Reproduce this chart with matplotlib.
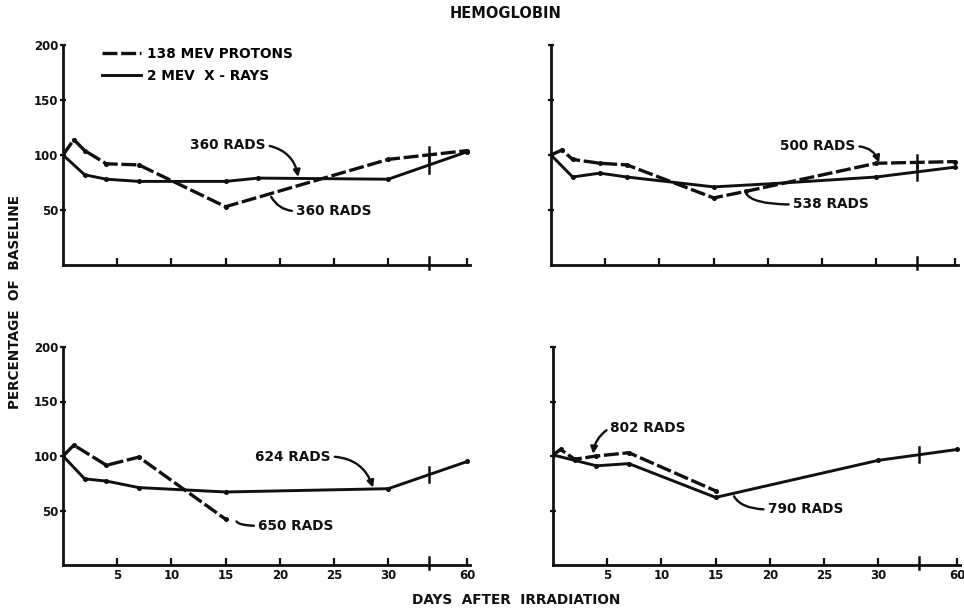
import matplotlib.pyplot as plt
import numpy as np

plt.rcParams["font.family"] = ["DejaVu Sans"]
plt.rcParams["font.weight"] = "bold"

INK = "#101010"

DAY_TICKS = [5, 10, 15, 20, 25, 30, 60]
Y_TICKS = [50, 100, 150, 200]
Y_TICK_LABELS = ["50", "100", "150", "200"]

# 360 rads, both beams
TL_P_DAYS = [0, 1, 2, 4, 7, 15, 30, 60]
TL_P_VALS = [100, 114, 104, 92, 91, 53, 96, 104]
TL_X_DAYS = [0, 2, 4, 7, 15, 18, 30, 60]
TL_X_VALS = [100, 82, 78, 76, 76, 79, 78, 103]

# 500 rads protons / 538 rads x-rays
TR_P_DAYS = [0, 1, 2, 4.5, 7, 15, 18, 30, 60]
TR_P_VALS = [100, 104.5, 96, 92.5, 91, 61, 67, 92.5, 94]
TR_X_DAYS = [0, 2, 4.5, 7, 15, 20.5, 30, 60]
TR_X_VALS = [100, 80, 83.5, 80, 71, 74, 80, 89]

# 650 rads protons / 624 rads x-rays
BL_P_DAYS = [0, 1, 4, 7, 15]
BL_P_VALS = [100, 110, 91.5, 99, 42]
BL_X_DAYS = [0, 2, 4, 7, 15, 30, 60]
BL_X_VALS = [100, 79, 77, 71, 67, 70, 95]

# 802 rads protons / 790 rads x-rays
BR_P_DAYS = [0, 0.7, 2, 4, 7, 15]
BR_P_VALS = [101, 106, 97, 100, 103, 68]
BR_X_DAYS = [0, 2, 4, 7, 15, 30, 60]
BR_X_VALS = [101, 96, 91, 93, 62, 96, 106]

# dose labels: text, text anchor, leader target, leader kind
TL_NOTES = [("360 RADS", (15.2, 109), (21.7, 80), "above"),
            ("360 RADS", (21.5, 49), (19.2, 62), "below")]
TR_NOTES = [("500 RADS", (24.6, 108), (31.1, 93), "above"),
            ("538 RADS", (22.3, 55), (18.0, 65), "below")]
BL_NOTES = [("624 RADS", (21.2, 99.5), (28.6, 71), "above"),
            ("650 RADS", (18.0, 36), (16.0, 40), "below")]
BR_NOTES = [("802 RADS", (5.3, 126), (3.7, 102), "left"),
            ("790 RADS", (19.8, 51), (16.7, 63), "below")]

# compressed axis beyond day 30: day 60 sits 7.3 units past day 30
POS_60 = 37.3
BREAK_DAY = 30 + (33.8 - 30) * 30 / (POS_60 - 30)

FS_NOTE = 9.8
FS_TICK = 8.5

LEADERS = {
    # arrow leaves the right end of the label and bends down onto the curve
    "above": dict(arrowstyle="-|>", mutation_scale=10, relpos=(1, 0.5),
                  connectionstyle="arc3,rad=-0.35"),
    # plain leader from the left end of the label up to the curve
    "below": dict(arrowstyle="-", relpos=(0, 0.5),
                  connectionstyle="angle3,angleA=0,angleB=-60"),
    # arrow from the left end of the label down onto the curve
    "left": dict(arrowstyle="-|>", mutation_scale=10, relpos=(0, 0.5),
                 connectionstyle="arc3,rad=0.25"),
}


def fwd(d):
    d = np.asarray(d, dtype=float)
    return np.where(d <= 30, d, 30 + (d - 30) * (POS_60 - 30) / 30)


def inv(p):
    p = np.asarray(p, dtype=float)
    return np.where(p <= 30, p, 30 + (p - 30) * 30 / (POS_60 - 30))


P_STYLE = dict(color=INK, lw=2.4, dashes=(4.5, 1.1), marker="o", ms=2.6,
               solid_capstyle="butt")
X_STYLE = dict(color=INK, lw=2.1, marker="o", ms=2.6)


def draw_panel(ax, p_days, p_vals, x_days, x_vals, notes, ylabels, xlabels):
    ax.set_xscale("function", functions=(fwd, inv))
    ax.set_xlim(0, 61)
    ax.set_ylim(0, 200)

    ax.plot(p_days, p_vals, label="138 MEV PROTONS", **P_STYLE)
    ax.plot(x_days, x_vals, label="2 MEV  X - RAYS", **X_STYLE)

    # break marks on curves that run past day 30
    for days, vals in ((p_days, p_vals), (x_days, x_vals)):
        if days[-1] > 30:
            yb = np.interp(BREAK_DAY, days, vals)
            ax.plot([BREAK_DAY, BREAK_DAY], [yb - 7, yb + 7], color=INK,
                    lw=1.8)
    # break in the day axis
    ax.plot([BREAK_DAY, BREAK_DAY], [-4, 7], color=INK, lw=1.8,
            clip_on=False)

    for txt, xyt, xy, kind in notes:
        ha = "center" if kind == "above" else "left"
        ax.annotate(txt, xy=xy, xytext=xyt, ha=ha, va="center",
                    fontsize=FS_NOTE, fontweight="heavy", color=INK,
                    arrowprops=dict(color=INK, lw=1.7, shrinkA=1, shrinkB=0,
                                    **LEADERS[kind]))

    for side in ("top", "right"):
        ax.spines[side].set_visible(False)
    for side in ("left", "bottom"):
        ax.spines[side].set_linewidth(2.0)
        ax.spines[side].set_color(INK)
    ax.set_xticks(DAY_TICKS)
    ax.set_xticks([], minor=True)
    ax.set_yticks(Y_TICKS)
    ax.tick_params(axis="x", direction="in", length=5, width=1.6,
                   color=INK, pad=3, labelsize=FS_TICK)
    ax.tick_params(axis="y", direction="inout", length=5, width=1.6,
                   color=INK, pad=1, labelsize=FS_TICK)
    ax.set_xticklabels([str(d) for d in DAY_TICKS] if xlabels else [])
    ax.set_yticklabels(Y_TICK_LABELS if ylabels else [])
    for lab in ax.get_xticklabels() + ax.get_yticklabels():
        lab.set_fontweight("heavy")
        lab.set_color(INK)


fig = plt.figure(figsize=(9.64, 6.11), dpi=100)
W, H = 964, 611
ax_w = 407.0 / W
ax_tl = fig.add_axes([63 / W, 346 / H, ax_w, 220 / H])
ax_tr = fig.add_axes([551 / W, 346 / H, ax_w, 220 / H])
ax_bl = fig.add_axes([63 / W, 46 / H, ax_w, 218 / H])
ax_br = fig.add_axes([553 / W, 46 / H, ax_w, 218 / H])

draw_panel(ax_tl, TL_P_DAYS, TL_P_VALS, TL_X_DAYS, TL_X_VALS, TL_NOTES,
           True, False)
draw_panel(ax_tr, TR_P_DAYS, TR_P_VALS, TR_X_DAYS, TR_X_VALS, TR_NOTES,
           False, False)
draw_panel(ax_bl, BL_P_DAYS, BL_P_VALS, BL_X_DAYS, BL_X_VALS, BL_NOTES,
           True, True)
draw_panel(ax_br, BR_P_DAYS, BR_P_VALS, BR_X_DAYS, BR_X_VALS, BR_NOTES,
           False, True)

handles, labels = ax_tl.get_legend_handles_labels()
leg = ax_tl.legend(handles, labels, loc="upper left",
                   bbox_to_anchor=(0.095, 0.99), frameon=False,
                   borderpad=0, borderaxespad=0, handlelength=2.9,
                   handletextpad=0.45, labelspacing=0.55,
                   prop=dict(size=9.8, weight="heavy"))
for h in leg.legend_handles:
    h.set_marker("")

fig.text(506 / W, 1 - 13 / H, "HEMOGLOBIN", ha="center", va="center",
         fontsize=10.5, fontweight="heavy", color=INK)
fig.text(516 / W, 1 - 600 / H, "DAYS  AFTER  IRRADIATION", ha="center",
         va="center", fontsize=9.8, fontweight="heavy", color=INK)
fig.text(15 / W, 1 - 302 / H, "PERCENTAGE  OF  BASELINE", ha="center",
         va="center", rotation=90, fontsize=9.8, fontweight="heavy",
         color=INK)

fig.savefig("out.png", dpi=100, facecolor="white")
